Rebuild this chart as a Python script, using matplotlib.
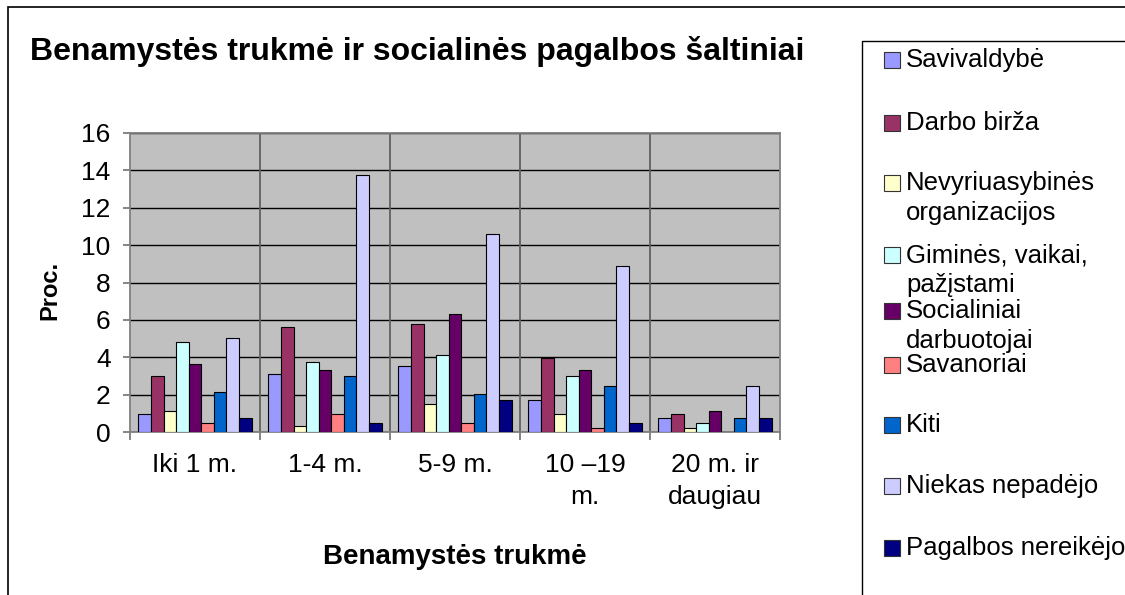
import numpy as np
import matplotlib.pyplot as plt
from matplotlib.patches import Rectangle

plt.rcParams['font.family'] = ['Liberation Sans', 'DejaVu Sans']

# data (percent)
categories = ["Iki 1 m.", "1-4 m.", "5-9 m.", "10 \u201319\nm.", "20 m. ir\ndaugiau"]
series_names = ["Savivaldybė", "Darbo birža", "Nevyriuasybinės\norganizacijos",
                "Giminės, vaikai,\npažįstami", "Socialiniai\ndarbuotojai", "Savanoriai",
                "Kiti", "Niekas nepadėjo", "Pagalbos nereikėjo"]
savivaldybe = [0.95, 3.1, 3.55, 1.7, 0.75]
darbo_birza = [3.0, 5.6, 5.8, 3.95, 0.95]
nevyriausybines = [1.15, 0.3, 1.5, 0.95, 0.2]
gimines = [4.8, 3.75, 4.1, 3.0, 0.5]
socialiniai = [3.65, 3.3, 6.3, 3.3, 1.15]
savanoriai = [0.5, 0.95, 0.5, 0.2, 0.0]
kiti = [2.15, 3.0, 2.05, 2.45, 0.75]
niekas = [5.05, 13.75, 10.6, 8.9, 2.45]
pagalbos = [0.75, 0.5, 1.7, 0.5, 0.75]
values = [savivaldybe, darbo_birza, nevyriausybines, gimines, socialiniai,
          savanoriai, kiti, niekas, pagalbos]
colors = ["#9999FF", "#993366", "#FFFFCC", "#CCFFFF", "#660066",
          "#FF8080", "#0066CC", "#CCCCFF", "#000080"]

W, H = 1125, 595


def fx(px):
    return px / W


def fy(py):
    return 1 - py / H


fig = plt.figure(figsize=(W / 100, H / 100), dpi=100)
ax = fig.add_axes([fx(130), fy(432), fx(780) - fx(130), fy(133) - fy(432)])
ax.set_facecolor("#C0C0C0")

x = np.arange(len(categories))
n = len(values)
w = 0.87 / n
for i, (vals, c) in enumerate(zip(values, colors)):
    ax.bar(x + (i - (n - 1) / 2) * w, vals, width=w, color=c,
           edgecolor="black", linewidth=0.8, zorder=3)

ax.set_xlim(-0.5, len(categories) - 0.5)
ax.set_ylim(0, 16)
ax.set_yticks(range(0, 17, 2))
ax.yaxis.grid(True, color="black", linewidth=1)
ax.set_axisbelow(True)

# category boundaries as major ticks, labels on minor ticks
ax.set_xticks(np.arange(-0.5, len(categories), 1))
ax.set_xticklabels([])
ax.set_xticks(x, minor=True)
ax.set_xticklabels(categories, minor=True, fontsize=19, linespacing=1.45)
ax.tick_params(axis="x", which="minor", length=0, pad=15)
ax.tick_params(axis="x", which="major", length=6, color="#707070", width=1.2)
ax.tick_params(axis="y", length=5, color="#707070", width=1.2, pad=9, labelsize=19)
for b in np.arange(0.5, len(categories) - 0.5, 1):
    ax.axvline(b, color="#606060", linewidth=1.3, zorder=1)
for s in ax.spines.values():
    s.set_color("#808080")
    s.set_linewidth(1.3)

fig.text(fx(30), fy(60), "Benamystės trukmė ir socialinės pagalbos šaltiniai",
         fontsize=23, fontweight="bold", va="baseline", ha="left")
fig.text(fx(50), fy(290), "Proc.", fontsize=17, fontweight="bold",
         rotation=90, ha="center", va="center")
fig.text(fx(455), fy(557), "Benamystės trukmė", fontsize=20, fontweight="bold",
         ha="center", va="center")

# outer chart border and legend box (right/bottom edges run off the picture)
fig.patches.append(Rectangle((fx(8), -0.2), 1.5, fy(7) + 0.2, transform=fig.transFigure,
                             fill=False, edgecolor="black", linewidth=1.2))
fig.patches.append(Rectangle((fx(862), -0.2), 1.0, fy(41) + 0.2, transform=fig.transFigure,
                             fill=False, edgecolor="black", linewidth=1.0))

# legend, drawn by hand like the Excel one
baselines = [67, 130, 190, 262, 318, 372, 432, 493, 555]
for name, c, base in zip(series_names, colors, baselines):
    fig.patches.append(Rectangle((fx(884), fy(base + 1)), fx(16), 16 / H,
                                 transform=fig.transFigure, facecolor=c,
                                 edgecolor="#333333", linewidth=0.8))
    for j, line in enumerate(name.split("\n")):
        fig.text(fx(906), fy(base + 30 * j), line, fontsize=18.5,
                 ha="left", va="baseline")

fig.savefig("out.png", dpi=100)
